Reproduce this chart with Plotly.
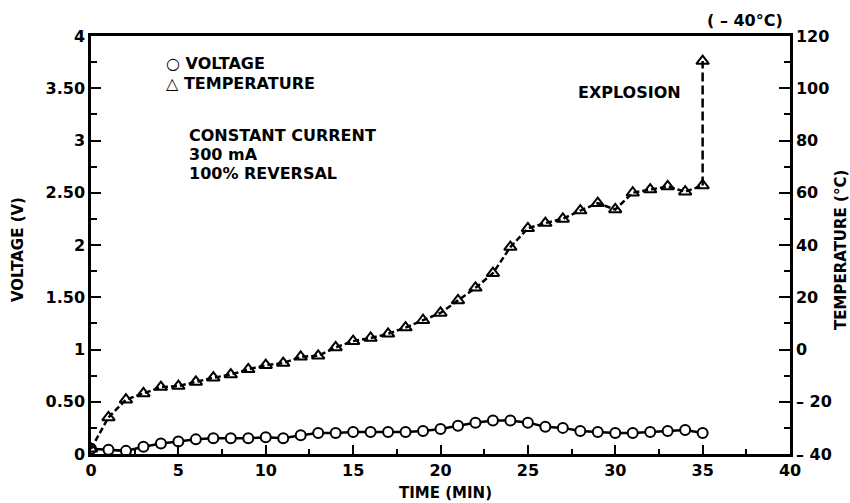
import plotly.graph_objects as go

time_min = list(range(0, 36))
voltage_v = [0.05, 0.04, 0.03, 0.07, 0.10, 0.12, 0.14, 0.15, 0.15, 0.15,
             0.16, 0.15, 0.18, 0.20, 0.20, 0.21, 0.21, 0.21, 0.21, 0.22,
             0.24, 0.27, 0.30, 0.32, 0.32, 0.30, 0.26, 0.25, 0.22, 0.21,
             0.20, 0.20, 0.21, 0.22, 0.23, 0.20]
temperature_c = [-38.0, -26.0, -19.2, -16.8, -14.4, -14.0, -12.4, -10.8, -9.6, -7.6,
                 -6.0, -5.2, -2.8, -2.4, 0.8, 3.2, 4.4, 6.0, 8.4, 11.2,
                 14.0, 18.8, 23.6, 29.2, 39.2, 46.4, 48.4, 50.0, 53.2, 56.0,
                 53.6, 60.0, 61.2, 62.4, 60.4, 62.8]
explosion_time = [35, 35]
explosion_temp = [62.8, 110.4]

v_tickvals = [0, 0.5, 1, 1.5, 2, 2.5, 3, 3.5, 4]
v_ticktext = ["0", "0.50", "1", "1.50", "2", "2.50", "3", "3.50", "4"]
t_tickvals = [-40, -20, 0, 20, 40, 60, 80, 100, 120]
t_ticktext = ["\u2013 40", "\u2013 20", "0", "20", "40", "60", "80", "100", "120"]
x_tickvals = [0, 5, 10, 15, 20, 25, 30, 35, 40]

FONT = "DejaVu Sans"
bold = dict(family=FONT, size=16, color="black", weight="bold")
tickf = dict(family=FONT, size=16, color="black", weight="bold")
titlef = dict(family=FONT, size=15, color="black", weight="bold")

fig = go.Figure()

fig.add_trace(go.Scatter(
    x=time_min, y=temperature_c, yaxis="y2", mode="lines+markers",
    line=dict(color="black", width=2.5, dash="6px,3px"),
    marker=dict(symbol="triangle-up-open", size=11, color="black",
                line=dict(width=2, color="black")),
    showlegend=False))

fig.add_trace(go.Scatter(
    x=explosion_time, y=explosion_temp, yaxis="y2", mode="lines",
    line=dict(color="black", width=2.5, dash="9px,4px"),
    showlegend=False))
fig.add_trace(go.Scatter(
    x=explosion_time[1:], y=explosion_temp[1:], yaxis="y2", mode="markers",
    marker=dict(symbol="triangle-up-open", size=11, color="black",
                line=dict(width=2, color="black")),
    showlegend=False))

fig.add_trace(go.Scatter(
    x=time_min, y=voltage_v, mode="lines+markers",
    line=dict(color="black", width=2.5),
    marker=dict(symbol="circle", size=10, color="white",
                line=dict(width=2, color="black")),
    showlegend=False))

fig.update_layout(
    width=850, height=503,
    margin=dict(l=91, r=60, t=36, b=49),
    plot_bgcolor="white", paper_bgcolor="white",
    font=bold,
    xaxis=dict(range=[0, 40], tickvals=x_tickvals, ticks="inside", ticklen=9,
               tickwidth=2, tickcolor="black", showline=True, linewidth=2.5,
               linecolor="black", mirror=True, showgrid=False, zeroline=False,
               tickfont=tickf, automargin=False,
               minor=dict(dtick=2.5, ticks="inside", ticklen=5, tickwidth=2,
                          tickcolor="black", showgrid=False)),
    yaxis=dict(range=[0, 4], tickvals=v_tickvals, ticktext=v_ticktext,
               ticks="inside", ticklen=10, tickwidth=2, tickcolor="black",
               showline=True, linewidth=2.5, linecolor="black",
               showgrid=False, zeroline=False, tickfont=tickf, automargin=False,
               minor=dict(dtick=0.25, ticks="inside", ticklen=6, tickwidth=2,
                          tickcolor="black", showgrid=False)),
    yaxis2=dict(range=[-40, 120], tickvals=t_tickvals, ticktext=t_ticktext,
                overlaying="y", side="right", ticks="inside", ticklen=11,
                tickwidth=2, tickcolor="black", showline=True, linewidth=2.5,
                linecolor="black", showgrid=False, zeroline=False,
                tickfont=tickf, automargin=False,
                minor=dict(dtick=10, ticks="inside", ticklen=6, tickwidth=2,
                           tickcolor="black", showgrid=False)),
)

PW = 850 - 91 - 60
PH = 503 - 36 - 49


def px(x, y):
    return (x - 91) / PW, 1 - (y - 36) / PH


ann = [
    dict(x=164, y=63, text="\u25cb VOLTAGE"),
    dict(x=164, y=83, text="\u25b3 TEMPERATURE"),
    dict(x=187, y=135, text="CONSTANT CURRENT"),
    dict(x=187, y=154, text="300 mA"),
    dict(x=187, y=173, text="100% REVERSAL"),
    dict(x=576, y=92, text="EXPLOSION"),
    dict(x=705, y=20, text="( \u2013 40\u00b0C)"),
]
for a in ann:
    ax, ay = px(a["x"], a["y"])
    fig.add_annotation(x=ax, y=ay, xref="paper", yref="paper", text=a["text"],
                       showarrow=False, xanchor="left", yanchor="middle",
                       font=bold)

titles = [
    dict(x=445, y=493, text="TIME (MIN)", angle=0),
    dict(x=18, y=250, text="VOLTAGE (V)", angle=-90),
    dict(x=841, y=250, text="TEMPERATURE (\u00b0C)", angle=-90),
]
for t in titles:
    ax, ay = px(t["x"], t["y"])
    fig.add_annotation(x=ax, y=ay, xref="paper", yref="paper", text=t["text"],
                       showarrow=False, xanchor="center", yanchor="middle",
                       textangle=t["angle"], font=titlef)

fig.write_html("out.html")
